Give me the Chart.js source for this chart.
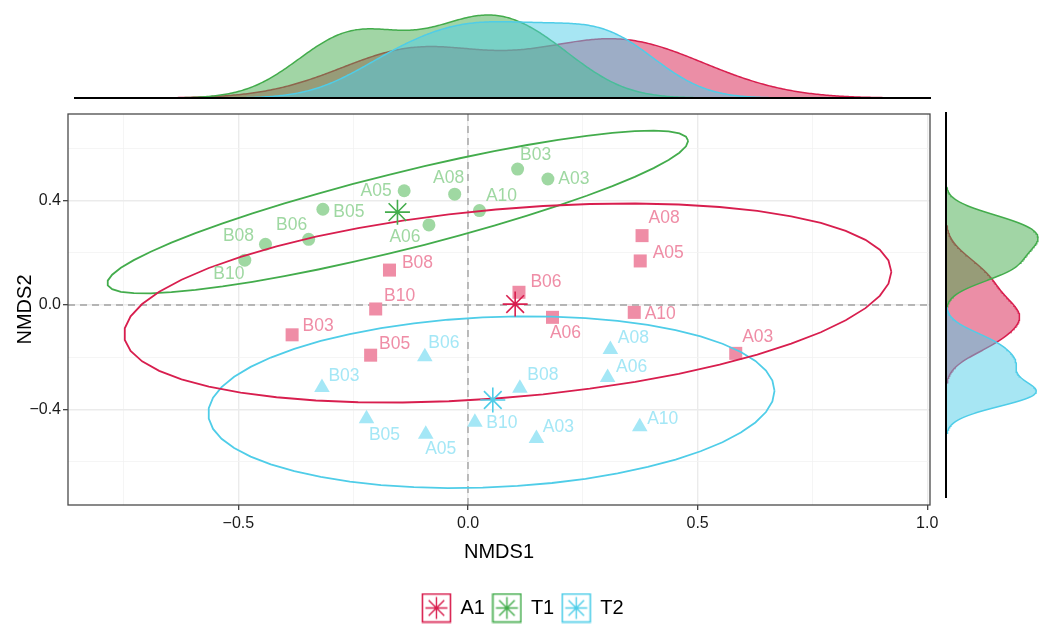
<!DOCTYPE html>
<html>
<head>
<meta charset="utf-8">
<script src="https://cdn.jsdelivr.net/npm/chart.js@4.4.1/dist/chart.umd.min.js"></script>
<style>
  html, body { margin: 0; padding: 0; background: #fff; overflow: hidden; width: 1046px; height: 626px; }
  #wrap { position: relative; width: 1046px; height: 626px; overflow: hidden; }
  canvas { position: absolute; }
  #main { left: 0; top: 0; width: 1046px; height: 628px; }
  #topM { left: 0; top: 0; width: 1046px; height: 100px; }
  #rightM { left: 930px; top: 100px; width: 116px; height: 410px; }
</style>
</head>
<body>
<div id="wrap">
  <canvas id="main" width="1046" height="628"></canvas>
  <canvas id="topM" width="1046" height="100"></canvas>
  <canvas id="rightM" width="116" height="410"></canvas>
</div>
<script>
// ---- NMDS scores per sample, one set of arrays per treatment group ----
const groups = ['A1', 'T1', 'T2'];
const sampleNames = ['A03', 'A05', 'A06', 'A08', 'A10', 'B03', 'B05', 'B06', 'B08', 'B10'];

const a1X = [0.583, 0.375, 0.184, 0.379, 0.362, -0.383, -0.212, 0.111, -0.171, -0.201];
const a1Y = [-0.185, 0.169, -0.047, 0.266, -0.028, -0.114, -0.192, 0.049, 0.134, -0.015];

const t1X = [0.174, -0.139, -0.085, -0.029, 0.025, 0.108, -0.316, -0.347, -0.441, -0.486];
const t1Y = [0.483, 0.438, 0.307, 0.425, 0.362, 0.521, 0.367, 0.252, 0.233, 0.172];

const t2X = [0.149, -0.092, 0.304, 0.310, 0.374, -0.318, -0.221, -0.094, 0.113, 0.015];
const t2Y = [-0.511, -0.495, -0.278, -0.170, -0.466, -0.316, -0.436, -0.198, -0.319, -0.449];

// axis ticks
const xTickValues = [-0.5, 0, 0.5, 1.0];
const xTickLabels = ['\u22120.5', '0.0', '0.5', '1.0'];
const yTickValues = [-0.4, 0, 0.4];
const yTickLabels = ['\u22120.4', '0.0', '0.4'];

// ---- presentation ----
const FONT = "'Liberation Sans', Arial, Helvetica, sans-serif";
Chart.defaults.font.family = FONT;

const groupData = { A1: [a1X, a1Y], T1: [t1X, t1Y], T2: [t2X, t2Y] };
const groupStyle = {
  A1: { line: '#D81E4E', point: '#EF8DA6', fill: 'rgba(216,30,78,0.5)', shape: 'rect', radius: 9.2 },
  T1: { line: '#43AC4C', point: '#9FD8A2', fill: 'rgba(67,172,76,0.5)', shape: 'circle', radius: 6.5 },
  T2: { line: '#4FCDE8', point: '#A4E7F6', fill: 'rgba(79,205,232,0.5)', shape: 'triangle', radius: 9 }
};
// text placement of each sample label relative to its marker, in pixels
const labelNudge = {
  A1: { A03: [22, -16], A05: [28, -8], A06: [13, 16], A08: [22, -17], A10: [26, 2],
        B03: [26, -9], B05: [24, -11], B06: [27, -10], B08: [28, -7], B10: [24, -13] },
  T1: { A03: [26, 0], A05: [-28, 0], A06: [-24, 12], A08: [-6, -16], A10: [22, -14],
        B03: [18, -14], B05: [26, 3], B06: [-17, -14], B08: [-27, -8], B10: [-16, 14] },
  T2: { A03: [22, -11], A05: [15, 15], A06: [24, -10], A08: [23, -11], A10: [23, -8],
        B03: [22, -11], B05: [18, 16], B06: [19, -14], B08: [23, -13], B10: [27, 1] }
};

// panel limits
const xMin = -0.871, xMax = 1.006;
const yMin = -0.766, yMax = 0.732;
const topXMin = -1.172, topXMax = 1.213;
const rightYMin = -1.055, rightYMax = 1.105;

// ---- statistics helpers ----
function mean(a) { return a.reduce((s, v) => s + v, 0) / a.length; }
function sdev(a) { const m = mean(a); return Math.sqrt(a.reduce((s, v) => s + (v - m) ** 2, 0) / (a.length - 1)); }
function quantile7(a, p) {
  const s = [...a].sort((u, v) => u - v);
  const h = (s.length - 1) * p, lo = Math.floor(h);
  return s[lo] + (h - lo) * (s[Math.min(lo + 1, s.length - 1)] - s[lo]);
}
function bwNrd0(a) {
  const hi = sdev(a);
  let lo = Math.min(hi, (quantile7(a, 0.75) - quantile7(a, 0.25)) / 1.34);
  if (!(lo > 0)) lo = hi || Math.abs(a[0]) || 1;
  return 0.9 * lo * Math.pow(a.length, -0.2);
}
function kde(a, from, to, n = 512) {
  const bw = bwNrd0(a), out = [];
  for (let i = 0; i < n; i++) {
    const t = from + (to - from) * i / (n - 1);
    let s = 0;
    for (const v of a) { const z = (t - v) / bw; s += Math.exp(-0.5 * z * z); }
    out.push({ t, d: s / (a.length * bw * Math.sqrt(2 * Math.PI)) });
  }
  return out;
}
// multivariate t robust covariance (nu = 5)
function covTrob(xs, ys) {
  const n = xs.length, nu = 5, p = 2;
  let loc = [mean(xs), mean(ys)];
  let w = new Array(n).fill(1);
  let dx = [], dy = [];
  for (let iter = 0; iter < 25; iter++) {
    const w0 = w.slice();
    dx = xs.map(v => v - loc[0]); dy = ys.map(v => v - loc[1]);
    const sw = w.reduce((s, v) => s + v, 0);
    let s11 = 0, s12 = 0, s22 = 0;
    for (let i = 0; i < n; i++) { s11 += w[i] * dx[i] * dx[i]; s12 += w[i] * dx[i] * dy[i]; s22 += w[i] * dy[i] * dy[i]; }
    s11 /= sw; s12 /= sw; s22 /= sw;
    const det = s11 * s22 - s12 * s12;
    w = dx.map((a, i) => { const b = dy[i]; const q = (s22 * a * a - 2 * s12 * a * b + s11 * b * b) / det; return (nu + p) / (nu + q); });
    const sw2 = w.reduce((s, v) => s + v, 0);
    loc = [xs.reduce((s, v, i) => s + w[i] * v, 0) / sw2, ys.reduce((s, v, i) => s + w[i] * v, 0) / sw2];
    if (w.every((v, i) => Math.abs(v - w0[i]) < 0.01)) break;
  }
  let c11 = 0, c12 = 0, c22 = 0;
  for (let i = 0; i < n; i++) { c11 += w[i] * dx[i] * dx[i]; c12 += w[i] * dx[i] * dy[i]; c22 += w[i] * dy[i] * dy[i]; }
  return { center: loc, cov: [c11 / n, c12 / n, c22 / n] };
}
// 95% confidence ellipse outline
function ellipse(xs, ys, level = 0.95, segments = 51) {
  const { center, cov } = covTrob(xs, ys);
  const dfd = xs.length - 1;
  const fq = (dfd / 2) * (Math.pow(1 - level, -2 / dfd) - 1);
  const r = Math.sqrt(2 * fq);
  const a = Math.sqrt(cov[0]), b = cov[1] / a, c = Math.sqrt(cov[2] - b * b);
  const pts = [];
  for (let i = 0; i <= segments; i++) {
    const th = i * 2 * Math.PI / segments, u = Math.cos(th), v = Math.sin(th);
    pts.push({ x: center[0] + r * u * a, y: center[1] + r * (u * b + v * c) });
  }
  return pts;
}

// ---- main scatter datasets ----
const datasets = [];
groups.forEach(g => {
  const [gx, gy] = groupData[g], st = groupStyle[g];
  datasets.push({
    label: g + ' centroid', role: 'centroid', group: g,
    data: [{ x: mean(gx), y: mean(gy) }],
    pointStyle: 'star', pointRadius: 12.5, borderColor: st.line, borderWidth: 1.6,
    backgroundColor: st.line, order: 0
  });
  datasets.push({
    label: g + ' ellipse', role: 'ellipse', group: g,
    data: ellipse(gx, gy), showLine: true, tension: 0,
    borderColor: st.line, borderWidth: 1.8, pointRadius: 0, fill: false, order: 1
  });
  datasets.push({
    label: g, role: 'points', group: g,
    data: gx.map((x, i) => ({ x, y: gy[i] })),
    pointStyle: st.shape, pointRadius: st.radius, backgroundColor: st.point,
    borderWidth: 0, order: 2
  });
});

const near = (a, b) => Math.abs(a - b) < 1e-9;
const isMajor = (vals, v) => vals.some(t => near(t, v));
const xGrid = [-0.75, -0.5, -0.25, 0, 0.25, 0.5, 0.75, 1.0];
const yGrid = [-0.6, -0.4, -0.2, 0, 0.2, 0.4, 0.6];

function gridOpts(majors) {
  return {
    color: c => (c.tick && isMajor(majors, c.tick.value)) ? '#EBEBEB' : '#F3F3F3',
    lineWidth: c => (c.tick && isMajor(majors, c.tick.value)) ? 1.4 : 0.8,
    tickColor: c => (c.tick && isMajor(majors, c.tick.value)) ? '#333333' : 'rgba(0,0,0,0)',
    tickWidth: 1.2,
    tickLength: 5
  };
}

function legendIcon(g) {
  const cv = document.createElement('canvas');
  cv.width = 31; cv.height = 31;
  const c = cv.getContext('2d'), col = groupStyle[g].line;
  c.strokeStyle = col; c.lineWidth = 1.6;
  c.strokeRect(1.5, 1.5, 28, 28);
  c.lineWidth = 1.4;
  const cx = 15.5, cy = 15.5, r = 11;
  c.beginPath();
  for (let k = 0; k < 4; k++) {
    const ang = k * Math.PI / 4;
    c.moveTo(cx - r * Math.cos(ang), cy - r * Math.sin(ang));
    c.lineTo(cx + r * Math.cos(ang), cy + r * Math.sin(ang));
  }
  c.stroke();
  return cv;
}

const panelDecor = {
  id: 'panelDecor',
  beforeDatasetsDraw(chart) {
    const { ctx, chartArea: a, scales: { x, y } } = chart;
    ctx.save();
    ctx.strokeStyle = '#A3A3A3'; ctx.lineWidth = 1.4; ctx.setLineDash([7, 5]);
    const px = x.getPixelForValue(0), py = y.getPixelForValue(0);
    ctx.beginPath();
    ctx.moveTo(px, a.top); ctx.lineTo(px, a.bottom);
    ctx.moveTo(a.left, py); ctx.lineTo(a.right, py);
    ctx.stroke();
    ctx.restore();
  },
  afterDatasetsDraw(chart) {
    const { ctx, chartArea: a } = chart;
    ctx.save();
    ctx.font = '17.5px ' + FONT;
    ctx.textAlign = 'center'; ctx.textBaseline = 'middle';
    chart.data.datasets.forEach((ds, di) => {
      if (ds.role !== 'points') return;
      const meta = chart.getDatasetMeta(di);
      ctx.fillStyle = groupStyle[ds.group].point;
      meta.data.forEach((el, i) => {
        const name = sampleNames[i], off = labelNudge[ds.group][name];
        ctx.fillText(name, el.x + off[0], el.y + off[1]);
      });
    });
    ctx.strokeStyle = '#4A4A4A'; ctx.lineWidth = 1.3;
    ctx.strokeRect(a.left, a.top, a.right - a.left, a.bottom - a.top);
    ctx.restore();
  }
};

new Chart(document.getElementById('main'), {
  type: 'scatter',
  data: { datasets },
  options: {
    responsive: false, animation: false,
    layout: { padding: 0 },
    plugins: {
      tooltip: { enabled: false },
      legend: {
        position: 'bottom', align: 'center',
        onClick: null,
        labels: {
          usePointStyle: true, pointStyleWidth: 28, padding: 8,
          font: { size: 20, family: FONT }, color: '#000',
          generateLabels: () => groups.map(g => ({
            text: g, pointStyle: legendIcon(g), fillStyle: 'rgba(0,0,0,0)',
            strokeStyle: 'rgba(0,0,0,0)', lineWidth: 0, hidden: false, fontColor: '#000'
          }))
        }
      }
    },
    scales: {
      x: {
        type: 'linear', position: 'bottom', min: xMin, max: xMax,
        afterBuildTicks: s => { s.ticks = xGrid.map(v => ({ value: v })); },
        afterFit: s => { s.height = 85; },
        grid: gridOpts(xTickValues),
        border: { display: false },
        ticks: {
          autoSkip: false, maxRotation: 0, padding: 4, color: '#1A1A1A',
          font: { size: 16, family: FONT },
          callback: v => { const k = xTickValues.findIndex(t => near(t, v)); return k >= 0 ? xTickLabels[k] : ''; }
        },
        title: { display: true, text: 'NMDS1', color: '#000', font: { size: 20, family: FONT }, padding: { top: 0, bottom: 26 } }
      },
      y: {
        type: 'linear', position: 'left', min: yMin, max: yMax,
        afterBuildTicks: s => { s.ticks = yGrid.map(v => ({ value: v })); },
        afterFit: s => { s.width = 68; },
        grid: gridOpts(yTickValues),
        border: { display: false },
        ticks: {
          autoSkip: false, padding: 2, color: '#1A1A1A',
          font: { size: 16, family: FONT },
          callback: v => { const k = yTickValues.findIndex(t => near(t, v)); return k >= 0 ? yTickLabels[k] : ''; }
        },
        title: { display: true, text: 'NMDS2', color: '#000', font: { size: 20, family: FONT }, padding: { top: 13, bottom: 0 } }
      },
      xTop: {
        type: 'linear', position: 'top', display: true,
        afterFit: s => { s.height = 114; },
        grid: { display: false }, border: { display: false }, ticks: { display: false }
      },
      yRight: {
        type: 'linear', position: 'right', display: true,
        afterFit: s => { s.width = 116; },
        grid: { display: false }, border: { display: false }, ticks: { display: false }
      }
    }
  },
  plugins: [panelDecor]
});

// ---- marginal densities ----
const drawOrder = ['T2', 'T1', 'A1'];   // T2 painted last (on top)

const topDens = {};
groups.forEach(g => { topDens[g] = kde(groupData[g][0], topXMin, topXMax); });
const topMax = Math.max(...groups.map(g => Math.max(...topDens[g].map(p => p.d))));

new Chart(document.getElementById('topM'), {
  type: 'line',
  data: {
    datasets: drawOrder.map((g, i) => ({
      label: g, data: topDens[g].map(p => ({ x: p.t, y: p.d })),
      borderColor: groupStyle[g].line, backgroundColor: groupStyle[g].fill,
      borderWidth: 1.5, pointRadius: 0, fill: 'origin', tension: 0, order: i
    }))
  },
  options: {
    responsive: false, animation: false,
    layout: { padding: { top: 10, right: 116, left: 0, bottom: 0 } },
    plugins: { legend: { display: false }, tooltip: { enabled: false } },
    scales: {
      x: {
        type: 'linear', min: topXMin, max: topXMax,
        afterFit: s => { s.height = 2; },
        grid: { display: false }, ticks: { display: false },
        border: { display: true, color: '#000', width: 2, z: 1 }
      },
      y: {
        type: 'linear', min: 0, max: topMax * 88 / 83,
        afterFit: s => { s.width = 75; },
        grid: { display: false }, ticks: { display: false }, border: { display: false }
      }
    }
  }
});

const rightDens = {};
groups.forEach(g => { rightDens[g] = kde(groupData[g][1], rightYMin, rightYMax); });
const rightMax = Math.max(...groups.map(g => Math.max(...rightDens[g].map(p => p.d))));

new Chart(document.getElementById('rightM'), {
  type: 'line',
  data: {
    datasets: drawOrder.map((g, i) => ({
      label: g, data: rightDens[g].map(p => ({ x: p.d, y: p.t })),
      borderColor: groupStyle[g].line, backgroundColor: groupStyle[g].fill,
      borderWidth: 1.5, pointRadius: 0, fill: 'origin', tension: 0, order: i
    }))
  },
  options: {
    responsive: false, animation: false, indexAxis: 'y',
    layout: { padding: { top: 13, right: 0, left: 0, bottom: 0 } },
    plugins: { legend: { display: false }, tooltip: { enabled: false } },
    scales: {
      y: {
        type: 'linear', position: 'left', min: rightYMin, max: rightYMax,
        afterFit: s => { s.width = 16; },
        grid: { display: false }, ticks: { display: false },
        border: { display: true, color: '#000', width: 2, z: 1 }
      },
      x: {
        type: 'linear', position: 'bottom', min: 0, max: rightMax * 100 / 92,
        afterFit: s => { s.height = 13; },
        grid: { display: false }, ticks: { display: false }, border: { display: false }
      }
    }
  }
});
</script>
</body>
</html>
